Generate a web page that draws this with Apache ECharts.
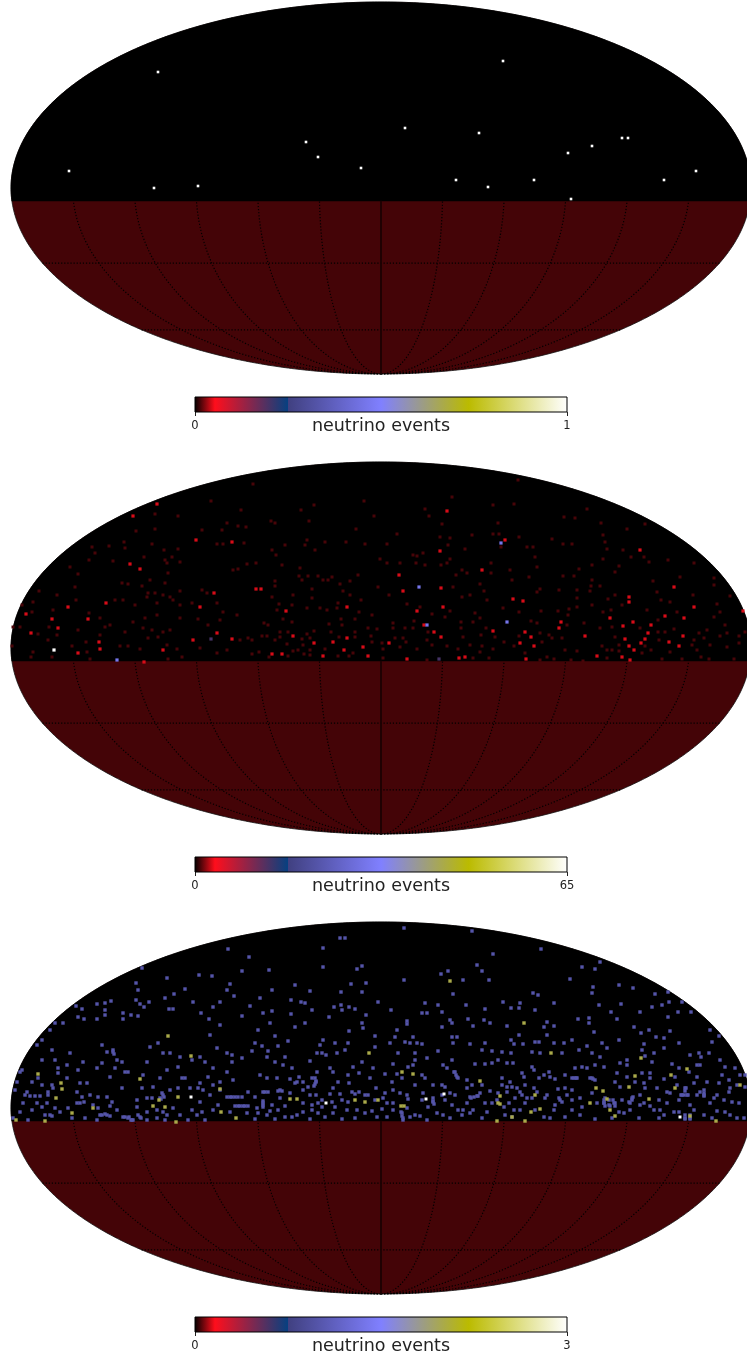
<!DOCTYPE html>
<html><head><meta charset="utf-8">
<style>html,body{margin:0;padding:0;background:#fff}#c{width:747px;height:1360px}</style>
<script src="https://cdn.jsdelivr.net/npm/echarts@6/dist/echarts.min.js"></script>
</head><body><div id="c"></div>
<script>
// Map-plane positions of the sky pixels: [x, y] on the Mollweide plane, ellipse x -370..370, y -186..186
const panel1Events = [[-223,116],[122,127],[-75,46],[24,60],[98,55],[-63,31],[-20,20],[-312,17],[-183,2],[-227,0],[187,35],[211,42],[241,50],[247,50],[75,8],[107,1],[153,8],[283,8],[315,17],[190,-11]];

const panel2One = [[-324,53],[-342,57],[-348,46],[-359,43],[-349,36],[-305,48],[-328,38],[-332,21],[-324,13],[-333,8],[-343,14],[-361,21],[-368,21],[-369,2],[-348,-4],[-350,-9],[-329,-9],[-309,2],[-294,-4],[-291,-11],[-276,21],[-271,23],[-281,30],[-292,35],[-311,81],[-303,74],[-259,65],[-253,64],[-239,62],[-231,68],[-216,65],[-213,75],[-201,57],[-179,58],[-174,55],[-233,55],[-226,55],[-218,53],[-211,51],[-258,48],[-266,48],[-234,51],[-246,43],[-224,45],[-208,48],[-201,43],[-189,45],[-164,45],[-158,36],[-144,33],[-161,28],[-183,29],[-173,23],[-201,30],[-224,33],[-236,30],[-248,26],[-238,20],[-229,18],[-211,18],[-218,16],[-256,16],[-281,13],[-295,6],[-303,18],[-261,2],[-253,2],[-241,-1],[-233,10],[-223,11],[-214,3],[-204,-1],[-199,-9],[-213,-11],[-181,0],[-164,-5],[-154,-2],[-141,8],[-133,10],[-148,78],[-143,79],[-134,84],[-201,86],[-214,85],[-306,61],
[-125,85],[-99,83],[-81,80],[-82,72],[-73,72],[-63,72],[-49,71],[-79,68],[-58,68],[-53,68],[-106,67],[-106,62],[-31,67],[-23,73],[-41,64],[-69,59],[-38,57],[-3,61],[-31,53],[-88,53],[-109,51],[-69,50],[8,53],[-20,48],[-89,43],[-102,44],[-104,38],[-43,45],[-61,40],[-54,38],[-44,40],[-74,40],[6,85],[19,85],[35,85],[44,83],[60,83],[66,85],[75,73],[81,78],[86,75],[110,85],[110,75],[99,64],[72,61],[103,57],[89,53],[81,51],[106,48],[26,44],[39,41],[69,37],[94,35],[99,30],[-9,33],[-22,36],[-26,29],[-40,29],[51,34],[64,31],[80,26],[92,26],[33,27],[12,25],[12,20],[-98,29],[-89,26],[-113,23],[-117,25],[-52,24],[-39,23],[-13,20],[-4,19],[24,20],[32,20],[47,16],[80,20],[105,20],[-67,17],[-74,14],[-93,16],[-101,16],[-119,12],[-114,12],[-101,11],[-129,8],[-106,8],[-79,9],[-71,10],[-50,16],[-42,11],[-26,16],[-26,11],[-10,12],[-9,6],[14,10],[22,10],[25,6],[46,8],[82,11],[100,13],[114,11],[-94,4],[-78,3],[-56,-1],[-83,-2],[-71,-2],[-88,-3],[-122,-4],[-129,-6],[-93,-8],[-112,-9],[-77,-6],[-71,-7],[-43,-8],[-32,-8],[-28,-5],[1,5],[2,-1],[19,1],[36,-1],[51,3],[66,2],[77,-1],[89,3],[101,2],[99,-4],[108,-10],[112,-1],[92,-10],[46,-12],[2,-10],
[156,81],[129,78],[148,71],[131,68],[159,59],[182,72],[193,72],[198,79],[211,83],[238,82],[234,76],[268,86],[313,85],[299,71],[333,70],[333,63],[272,67],[211,68],[219,62],[210,62],[178,58],[156,56],[196,58],[209,57],[234,53],[227,49],[196,50],[188,39],[177,37],[160,37],[138,36],[122,40],[196,41],[211,43],[241,43],[230,38],[222,36],[280,48],[289,46],[266,38],[296,36],[276,56],[312,53],[336,44],[339,36],[349,52],[333,31],[277,28],[156,25],[150,27],[187,33],[186,23],[219,20],[231,21],[259,20],[277,16],[284,16],[293,19],[318,15],[326,18],[346,15],[344,23],[358,12],[364,16],[138,12],[123,6],[159,15],[171,10],[181,10],[203,25],[168,13],[234,11],[278,8],[313,8],[323,10],[339,12],[358,5],[346,1],[329,3],[311,3],[316,-2],[289,-4],[270,-2],[264,2],[238,3],[221,2],[226,-2],[196,-3],[184,-2],[161,6],[144,-5],[133,2],[159,-12],[166,-9],[173,-11],[190,-12],[202,-13],[226,-10],[261,-5],[281,-11],[301,-11],[320,-9],[328,-11],[353,-11],[231,-2],[238,-3],
[-128,164],[137,168],[71,151],[133,144],[-170,147],[-17,147],[-67,143],[-80,138],[-140,138],[-226,134],[-203,132],[-7,132],[48,132],[44,139],[112,143],[183,131],[194,130],[206,139],[220,125],[264,124],[246,119],[61,124],[117,125],[-72,127],[-110,127],[-106,125],[-154,125],[-143,122],[-135,121],[-179,118],[-159,118],[-226,119],[-245,117],[-25,119],[16,114],[59,111],[69,110],[91,113],[112,114],[118,114],[138,111],[171,109],[182,104],[191,104],[222,113],[224,106],[226,99],[-257,106],[-229,104],[-164,104],[-158,104],[-137,105],[-96,103],[-74,108],[-76,103],[-56,106],[-35,106],[-16,104],[6,104],[67,103],[-256,100],[-272,102],[-286,95],[-289,101],[-203,99],[-217,98],[-237,91],[-209,91],[-216,88],[-292,88],[-268,87],[-109,98],[-105,93],[-66,98],[-1,89],[32,93],[36,92],[42,95],[69,89],[84,99],[120,101],[146,101],[152,101],[154,91],[250,91],[242,98],[263,91],[287,88],[222,89]];

const panel2Three = [[-323,20],[-303,-5],[-241,79],[-313,41],[-293,29],[-282,6],[-218,-2],[-188,8],[-164,15],[-350,15],[-355,34],[-329,29],[-251,84],[-181,41],[-281,-1],[-167,55],[-275,45],[-149,9],[-237,-14],
[-95,37],[-120,59],[-125,59],[-88,12],[-48,6],[-34,10],[-37,-2],[-58,-8],[-18,1],[-13,-8],[8,5],[36,37],[22,57],[60,60],[101,78],[43,23],[26,-11],[60,11],[112,17],[-109,-6],[-99,-6],[-67,5],[-34,41],[18,73],[62,41],[84,-9],[78,-10],[53,16],
[132,49],[142,47],[144,16],[150,11],[139,5],[153,2],[145,-11],[180,26],[178,20],[204,12],[229,30],[242,22],[252,26],[270,23],[267,15],[264,9],[260,5],[244,9],[248,2],[241,-9],[249,-12],[302,12],[298,2],[288,6],[284,32],[303,30],[313,41],[293,61],[248,51],[248,46],[362,37],[253,-2],[216,-8],
[-224,144],[-149,106],[-185,108],[124,108],[259,98],[-248,132],[59,97],[66,137]];

const panel2Thirty = [[-264,-12],[38,61],[46,23],[126,26],[120,105]];
const panel2Thirteen = [[-170,9],[58,-11]];
const panel2SixtyFive = [[-327,-2]];

const panel3One = [[-361,36],[-359,38],[-364,26],[-366,18],[-354,16],[-356,13],[-351,12],[-346,12],[-341,12],[-358,5],[-349,-2],[-339,1],[-333,16],[-333,13],[-328,20],[-329,23],[-323,35],[-343,30],[-339,23],[-349,26],[-339,48],[-326,48],[-329,58],[-339,68],[-344,63],[-331,78],[-326,85],[-318,85],[-311,55],[-314,43],[-303,38],[-294,25],[-304,16],[-301,5],[-304,5],[-299,11],[-291,13],[-283,11],[-288,3],[-271,31],[-268,56],[-274,56],[-279,63],[-264,48],[-259,46],[-266,40],[-256,36],[-253,36],[-259,20],[-269,6],[-274,11],[-279,-7],[-274,-7],[-284,-12],[-258,-9],[-253,-10],[-249,-12],[-241,-9],[-244,8],[-234,10],[-229,10],[-221,10],[-218,13],[-239,20],[-228,21],[-238,33],[-234,46],[-231,61],[-223,65],[-218,55],[-211,55],[-201,51],[-189,48],[-181,51],[-176,46],[-164,60],[-154,55],[-149,46],[-139,50],[-161,83],[-171,73],[-199,30],[-183,20],[-178,18],[-161,26],[-154,36],[-161,18],[-151,11],[-146,11],[-141,2],[-136,2],[-134,-5],[-171,13],[-181,6],[-189,-2],[-208,0],[-218,-4],[-224,-10],[-216,-12],[-193,-12],
[-123,78],[-126,65],[-119,62],[-129,57],[-111,85],[-106,72],[-93,67],[-86,81],[-76,85],[-103,62],[-113,57],[-114,51],[-96,51],[-106,46],[-98,43],[-89,40],[-71,47],[-64,55],[-59,55],[-55,53],[-61,63],[-58,68],[-46,65],[-33,65],[-36,58],[-44,55],[-19,85],[-18,80],[-32,77],[-6,72],[-6,61],[9,65],[16,78],[14,71],[26,84],[32,71],[29,65],[24,66],[36,65],[41,64],[34,55],[17,55],[46,50],[57,57],[71,85],[71,71],[76,71],[72,65],[61,81],[89,64],[92,82],[104,65],[109,85],[101,58],[111,57],[62,43],[71,48],[94,44],[104,44],[111,45],[74,36],[76,31],[66,40],
[-121,33],[-114,30],[-104,30],[-91,29],[-82,31],[-78,26],[-69,30],[-64,36],[-65,26],[-51,40],[-48,36],[-33,33],[-43,26],[-32,25],[-28,41],[-22,35],[-19,46],[-8,40],[4,34],[12,44],[16,34],[11,26],[21,30],[32,43],[34,48],[27,41],[41,33],[44,30],[-11,30],
[-126,11],[-118,16],[-101,18],[-101,10],[-118,5],[-109,3],[-96,2],[-91,15],[-86,25],[-78,18],[-71,13],[-65,13],[-78,5],[-69,3],[-63,5],[-51,14],[-48,20],[-39,8],[-41,14],[-29,16],[-22,16],[-26,14],[-5,20],[4,15],[2,10],[-13,13],[19,15],[26,13],[27,9],[12,5],[6,5],[42,15],[52,6],[61,23],[64,21],[69,15],[61,13],[52,23],[86,28],[86,20],[91,23],[101,23],[89,11],[96,12],[99,15],[109,17],[117,15],
[-126,-11],[-114,-7],[-111,-3],[-123,-5],[-106,-11],[-96,-9],[-89,-9],[-78,-4],[-69,-2],[-71,-11],[-63,-5],[-59,1],[-46,1],[-39,-11],[-48,-5],[-26,-10],[-24,-2],[-9,-3],[1,-1],[-4,-9],[6,-9],[21,-5],[22,-10],[34,-7],[39,-8],[46,-12],[62,-7],[81,-7],[82,-2],[92,-2],[101,-10],[111,5],[104,5],[86,5],[64,8],[71,3],[56,-5],
[126,82],[130,68],[133,64],[142,64],[138,73],[121,56],[130,55],[117,48],[126,45],[132,45],[151,56],[159,55],[154,66],[158,66],[173,65],[166,73],[163,81],[173,82],[166,86],[183,65],[191,68],[206,62],[208,85],[213,76],[221,65],[226,60],[198,58],[181,55],[211,55],[219,51],[238,68],[253,81],[260,75],[268,78],[275,71],[289,77],[263,64],[283,70],[283,60],[298,65],[261,58],[273,55],[264,52],[246,48],[246,43],[318,55],[320,51],[309,53],[329,78],[338,72],[331,66],[328,55],[339,48],[344,41],[354,40],[319,43],[316,43],[291,44],[298,40],[261,35],[271,46],[269,35],[269,30],[283,29],[294,31],[308,36],[316,31],[313,25],[326,26],[341,33],[348,28],[359,33],[338,25],[364,33],
[141,35],[151,41],[153,38],[158,30],[168,36],[163,33],[174,29],[184,33],[194,40],[206,40],[214,43],[193,30],[211,30],[184,20],[191,18],[177,19],[236,35],[234,26],[239,21],[246,31],[254,26],[263,25],
[121,30],[129,26],[121,23],[131,21],[136,20],[144,23],[153,20],[126,16],[156,16],[146,10],[128,5],[134,10],[141,13],[151,10],[164,10],[179,8],[186,13],[191,8],[199,10],[211,15],[223,5],[228,3],[233,5],[224,10],[251,10],[248,6],[238,-4],[243,-5],[259,13],[278,8],[289,15],[286,16],[301,13],[306,13],[304,20],[298,8],[319,16],[323,13],[333,10],[349,20],[356,23],[351,6],[358,5],[343,8],[329,5],
[133,-2],[144,5],[124,-7],[131,-9],[163,-9],[169,-10],[184,-9],[199,-7],[214,-11],[231,-10],[258,-10],[273,-2],[279,-2],[283,-7],[278,-10],[293,-4],[298,-4],[304,-10],[309,-10],[313,-2],[323,-7],[344,-4],[356,-10],[363,-10],[331,-10],[263,5],[269,2],[174,3],
[23,180],[-41,170],[-36,170],[-58,160],[-153,159],[-132,151],[91,177],[112,154],[160,159],[219,146],[201,141],[214,139],[189,129],[96,143],[67,137],[60,134],[101,137],[82,128],[108,128],[23,128],[-19,142],[-24,139],[-58,141],[-112,138],[-139,137],[-169,132],[-182,133],[-214,130],[-239,140],[-245,125],[-243,118],[-196,119],[-207,114],[-216,110],[-188,106],[-151,124],[-154,118],[-147,112],[-161,106],[-168,101],[-86,123],[-71,117],[-109,118],[-121,110],[-90,108],[-80,106],[-76,105],[-40,116],[-30,124],[-15,125],[-19,116],[-3,106],[72,114],[44,105],[57,103],[85,103],[122,106],[152,115],[157,113],[139,105],[173,105],[212,121],[211,115],[238,123],[252,120],[274,114],[287,116],[240,104],[218,103],[281,103],[288,106],[301,106],[271,101],
[-245,108],[-241,104],[-232,106],[-237,101],[-270,107],[-276,105],[-284,104],[-299,99],[-276,98],[-305,102],[-212,99],[-208,99],[-180,95],[-131,102],[-118,95],[-109,97],[-90,94],[-69,98],[-47,101],[-40,103],[-39,98],[-32,101],[-26,99],[-15,93],[10,98],[41,95],[46,95],[61,96],[104,99],[130,100],[138,100],[154,98],[230,96],[208,90],[197,89],[236,89],[259,96],[297,96],[310,96],[287,91],[-258,95],[-250,93],[-258,89],[-243,92],[-276,93],[-284,89],[-297,89],[-303,91],[-172,89],[-139,92],[-52,91],[87,89],[103,88],[69,88],[26,87],
[-146,2],[-143,2],[-138,2],[-133,2],[-154,11],[-149,11],[-143,11],[-139,11],[-219,15],[-217,11],[-220,9],[-336,-7],[-331,-7],[-329,-8],[-256,-9],[-252,-9],[-250,-12],[-248,-12],[-297,6],[-281,-7],[-276,-6],[-271,-8],[-243,-7],[-240,-10],[-268,58],[-267,54],
[-66,30],[-65,27],[-66,24],[-67,22],[-116,16],[-113,16],[-103,17],[-99,17],[52,10],[52,7],[53,4],[73,36],[75,33],[77,30],[90,10],[93,11],[97,12],[20,-4],[21,-8],[22,-12],[-118,7],[-118,3],[-118,1],
[223,8],[223,5],[224,2],[229,2],[234,2],[234,5],[232,8],[228,8],[252,11],[251,8],[249,5],[300,13],[303,13],[307,13],[304,17],[305,20],[323,18],[323,15],[323,12],[304,-7],[304,-11],[309,-7],[309,-11],[209,30],[212,29],[214,28],[191,30],[195,30],[196,30],[178,10],[181,6],
[-334,5],[-326,0],[-321,-4],[-313,0],[-344,5],[-361,-4],[-368,-10],[-353,-12],[-296,-10],[-309,-10],[-234,-12],[-264,-2],[-271,2],[-283,0],[-244,1],[-234,-4],[-224,-2],[-211,18],[-203,20],[-191,20],[-181,25],[-168,23],[-148,28],[-173,31],[-196,30],[-221,30],[-214,38],[-203,41],[-168,40],[-149,53],[-168,-2],[-179,-4],[-201,-7],[-214,-7],[-133,16],[-163,3],[-151,-4],[-176,-12],[-184,-7],[-279,45],[-284,40],[-314,30],[-301,25],[-323,40],[-298,46],
[-84,26],[-73,21],[-59,8],[-49,6],[-33,6],[-16,13],[-6,8],[12,18],[34,23],[41,8],[47,1],[26,0],[74,13],[77,-2],[106,-4],[116,8],[89,-5],[-124,0],[-103,-2],[-84,-7],[-56,-9],[-34,-2],[-16,-5],[12,-2],[29,-9],[69,-10],
[126,21],[139,16],[123,1],[139,-2],[154,-2],[166,13],[173,-2],[191,-2],[201,1],[216,5],[241,8],[259,3],[286,5],[309,3],[316,13],[336,13],[348,16],[364,21],[336,-3],[349,-7],[296,23],[276,20],[264,20],[249,-2],[169,31],[143,31],[201,41],[223,41],[239,45]];

const panel3Two = [[-91,9],[-84,9],[-12,55],[21,36],[32,34],[-26,8],[-16,6],[-3,8],[20,2],[23,2],[99,27],[116,-13],[117,5],[-213,72],[-343,34],[-320,25],[-319,19],[-325,10],[-241,29],[-222,8],[-288,0],[-228,2],[-216,1],[-309,-5],[-336,-13],[-365,-12],[-203,11],[-161,19],[-160,-4],[-205,-14],[-145,-10],[-190,52],[143,85],[170,55],[260,50],[306,39],[290,33],[254,32],[248,21],[215,20],[222,17],[226,9],[209,5],[268,9],[294,20],[359,23],[119,12],[119,4],[154,13],[150,-4],[159,-1],[229,-2],[234,-8],[309,-8],[335,-13],[144,-13],[131,-9],[69,127]];

const panel3Three = [[-55,5],[45,9],[63,14],[-190,11],[299,-9]];

const panelMax = [1, 65, 3];
const graticuleLons = [-150,-120,-90,-60,-30,30,60,90,120,150];
const graticuleLats = [-60,-30];
const boundaryY = -13;

// gist_stern colour table
const STOPS_R = [[0,0],[0.0547,1],[0.25,0.027],[0.25,0.25],[1,1]];
const STOPS_G = [[0,0],[1,1]];
const STOPS_B = [[0,0],[0.5,1],[0.735,0],[1,1]];
const BAR_POS = [0,0.0547,0.25,0.2501,0.5,0.735,1];
function chan(t,s){for(let i=1;i<s.length;i++){if(t<=s[i][0]){const a=s[i-1],b=s[i];if(b[0]===a[0])return b[1];return a[1]+(b[1]-a[1])*(t-a[0])/(b[0]-a[0]);}}return s[s.length-1][1];}
function stern(t){const c=s=>Math.round(255*chan(t,s));return 'rgb('+c(STOPS_R)+','+c(STOPS_G)+','+c(STOPS_B)+')';}

const HX=370,HY=186;
function moll(lon,lat){
  const phi=lat*Math.PI/180;let th=phi;
  if(Math.abs(lat)!==90){for(let i=0;i<40;i++){th-=(2*th+Math.sin(2*th)-Math.PI*Math.sin(phi))/(2+2*Math.cos(2*th));}}
  return [HX*lon/180*Math.cos(th),HY*Math.sin(th)];
}
function range(a,b,s){const o=[];for(let v=a;v<=b+1e-9;v+=s)o.push(v);return o;}

const chart=echarts.init(document.getElementById('c'),null,{renderer:'canvas'});
const grids=[],xAxes=[],yAxes=[],series=[];
function addPanel(k){
  const off=460*k, gi=grids.length;
  grids.push({left:11,top:2+off,width:740,height:372,outerBoundsMode:'none'});
  xAxes.push({type:'value',gridIndex:gi,min:-HX,max:HX,show:false});
  yAxes.push({type:'value',gridIndex:gi,min:-HY,max:HY,show:false});
  series.push({type:'custom',xAxisIndex:gi,yAxisIndex:gi,silent:true,clip:false,z:1,data:[[0,0]],
    renderItem(p,api){
      const red=[],blk=[];
      for(let t=0;t<=720;t++){const a=t/720*2*Math.PI;red.push(api.coord([HX*Math.cos(a),HY*Math.sin(a)]));}
      const a0=Math.asin(boundaryY/HY);
      for(let t=0;t<=360;t++){const a=a0+(Math.PI-2*a0)*t/360;blk.push(api.coord([HX*Math.cos(a),HY*Math.sin(a)]));}
      return {type:'group',children:[
        {type:'polygon',shape:{points:red},style:{fill:'#440407',stroke:'#111',lineWidth:0.8}},
        {type:'polygon',shape:{points:blk},style:{fill:'#000',stroke:'#000',lineWidth:0.5}}
      ]};
    }});
  const dotted={color:'#000',width:1.2,type:[1.2,1.9]};
  graticuleLons.forEach(lo=>series.push({type:'line',xAxisIndex:gi,yAxisIndex:gi,silent:true,z:2,showSymbol:false,symbol:'none',lineStyle:dotted,
    data:range(-90,-5,1).map(la=>moll(lo,la))}));
  graticuleLats.forEach(la=>series.push({type:'line',xAxisIndex:gi,yAxisIndex:gi,silent:true,z:2,showSymbol:false,symbol:'none',lineStyle:dotted,
    data:range(-180,180,3).map(lo=>moll(lo,la))}));
  series.push({type:'line',xAxisIndex:gi,yAxisIndex:gi,silent:true,z:2,showSymbol:false,symbol:'none',
    lineStyle:{color:'#1c0203',width:1.8},data:range(-90,-5,5).map(la=>moll(0,la))});
}
function addBar(k){
  const off=460*k, gi=grids.length, M=panelMax[k];
  grids.push({left:195,top:397+off,width:372,height:15,outerBoundsMode:'none'});
  xAxes.push({type:'value',gridIndex:gi,min:0,max:M,interval:M,
    axisLine:{show:false},splitLine:{show:false},
    axisTick:{show:true,length:4,lineStyle:{color:'#222',width:1}},
    axisLabel:{show:true,margin:8,fontSize:11.5,color:'#222',fontFamily:'DejaVu Sans',showMinLabel:true,showMaxLabel:true,hideOverlap:false},
    name:'neutrino events',nameLocation:'middle',nameGap:14,nameMoveOverlap:false,
    nameTextStyle:{fontSize:17.5,color:'#222',fontFamily:'DejaVu Sans',verticalAlign:'middle'}});
  yAxes.push({type:'value',gridIndex:gi,min:0,max:1,show:false});
  series.push({type:'custom',xAxisIndex:gi,yAxisIndex:gi,silent:true,z:5,data:[[0,M]],
    renderItem(p,api){
      const a=api.coord([api.value(0),1]),b=api.coord([api.value(1),0]);
      const colorStops=BAR_POS.map(t=>({offset:t,color:stern(t)}));
      colorStops[2].color='rgb(7,64,128)';
      return {type:'rect',shape:{x:a[0],y:a[1],width:b[0]-a[0],height:b[1]-a[1]},
        style:{fill:new echarts.graphic.LinearGradient(0,0,1,0,colorStops),stroke:'#000',lineWidth:1}};
    }});
}
[0,1,2].forEach(addPanel);
function addEv(k,pts,v,size){const M=panelMax[k];series.push({type:'scatter',xAxisIndex:k,yAxisIndex:k,silent:true,z:3+v/M,symbol:'rect',symbolSize:size,itemStyle:{color:stern(v/M),opacity:1},data:pts});}
addEv(0,panel1Events,1,2.6);
addEv(1,panel2One,1,3);
addEv(1,panel2Three,3,3.2);
addEv(1,panel2Thirteen,13,3.2);
addEv(1,panel2Thirty,30,3.2);
addEv(1,panel2SixtyFive,65,3.2);
addEv(2,panel3One,1,3.4);
addEv(2,panel3Two,2,3.4);
addEv(2,panel3Three,3,3);
[0,1,2].forEach(addBar);
chart.setOption({animation:false,backgroundColor:'#fff',grid:grids,xAxis:xAxes,yAxis:yAxes,series});
</script></body></html>
